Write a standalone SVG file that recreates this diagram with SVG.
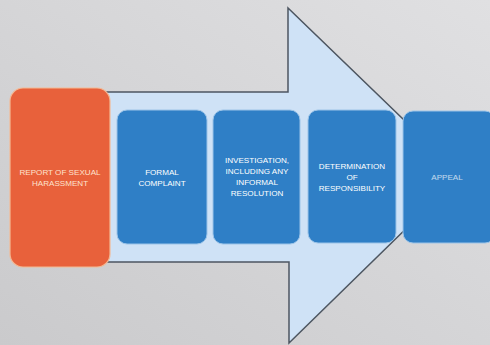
<svg xmlns="http://www.w3.org/2000/svg" width="490" height="345" viewBox="0 0 490 345">
<defs>
<linearGradient id="bg" x1="0" y1="1" x2="1" y2="0">
<stop offset="0" stop-color="#cacacc"/>
<stop offset="1" stop-color="#e0e0e2"/>
</linearGradient>
<style>
.blue{fill:#2f7fc6;stroke:#9cc4e8;stroke-width:1}
.orange{fill:#e8613b;stroke:#f3b994;stroke-width:1.2}
.t{font-family:"Liberation Sans",Arial,sans-serif;font-size:8.1px;fill:#ffffff;text-anchor:middle}
.to{fill:#fde3cf}
</style>
</defs>
<rect width="490" height="345" fill="url(#bg)"/>
<g id="connectors">
<path d="M100,92 L288,92 L288,8 L461,175 L289,343 L289,262 L100,262 Z" fill="#cfe2f6" stroke="#4d5661" stroke-width="1.5" stroke-linejoin="miter"/>
</g>
<g id="node-report">
<rect class="orange" x="10" y="88" width="100" height="179" rx="13"/>
<text class="t to" x="60" y="175">REPORT OF SEXUAL</text>
<text class="t to" x="60" y="186">HARASSMENT</text>
</g>
<g id="node-formal">
<rect class="blue" x="117" y="110" width="90" height="134" rx="10"/>
<text class="t" x="162" y="175">FORMAL</text>
<text class="t" x="162" y="186">COMPLAINT</text>
</g>
<g id="node-investigation">
<rect class="blue" x="213" y="110" width="87" height="134" rx="10"/>
<text class="t" x="257" y="163">INVESTIGATION,</text>
<text class="t" x="257" y="174">INCLUDING ANY</text>
<text class="t" x="257" y="185">INFORMAL</text>
<text class="t" x="257" y="196">RESOLUTION</text>
</g>
<g id="node-determination">
<rect class="blue" x="308" y="110" width="88" height="133" rx="10"/>
<text class="t" x="352" y="169">DETERMINATION</text>
<text class="t" x="352" y="180">OF</text>
<text class="t" x="352" y="191">RESPONSIBILITY</text>
</g>
<g id="node-appeal">
<rect class="blue" x="403" y="111" width="92" height="132" rx="10"/>
<text class="t" x="447" y="180" opacity="0.7" font-size="6.5">APPEAL</text>
</g>
</svg>
